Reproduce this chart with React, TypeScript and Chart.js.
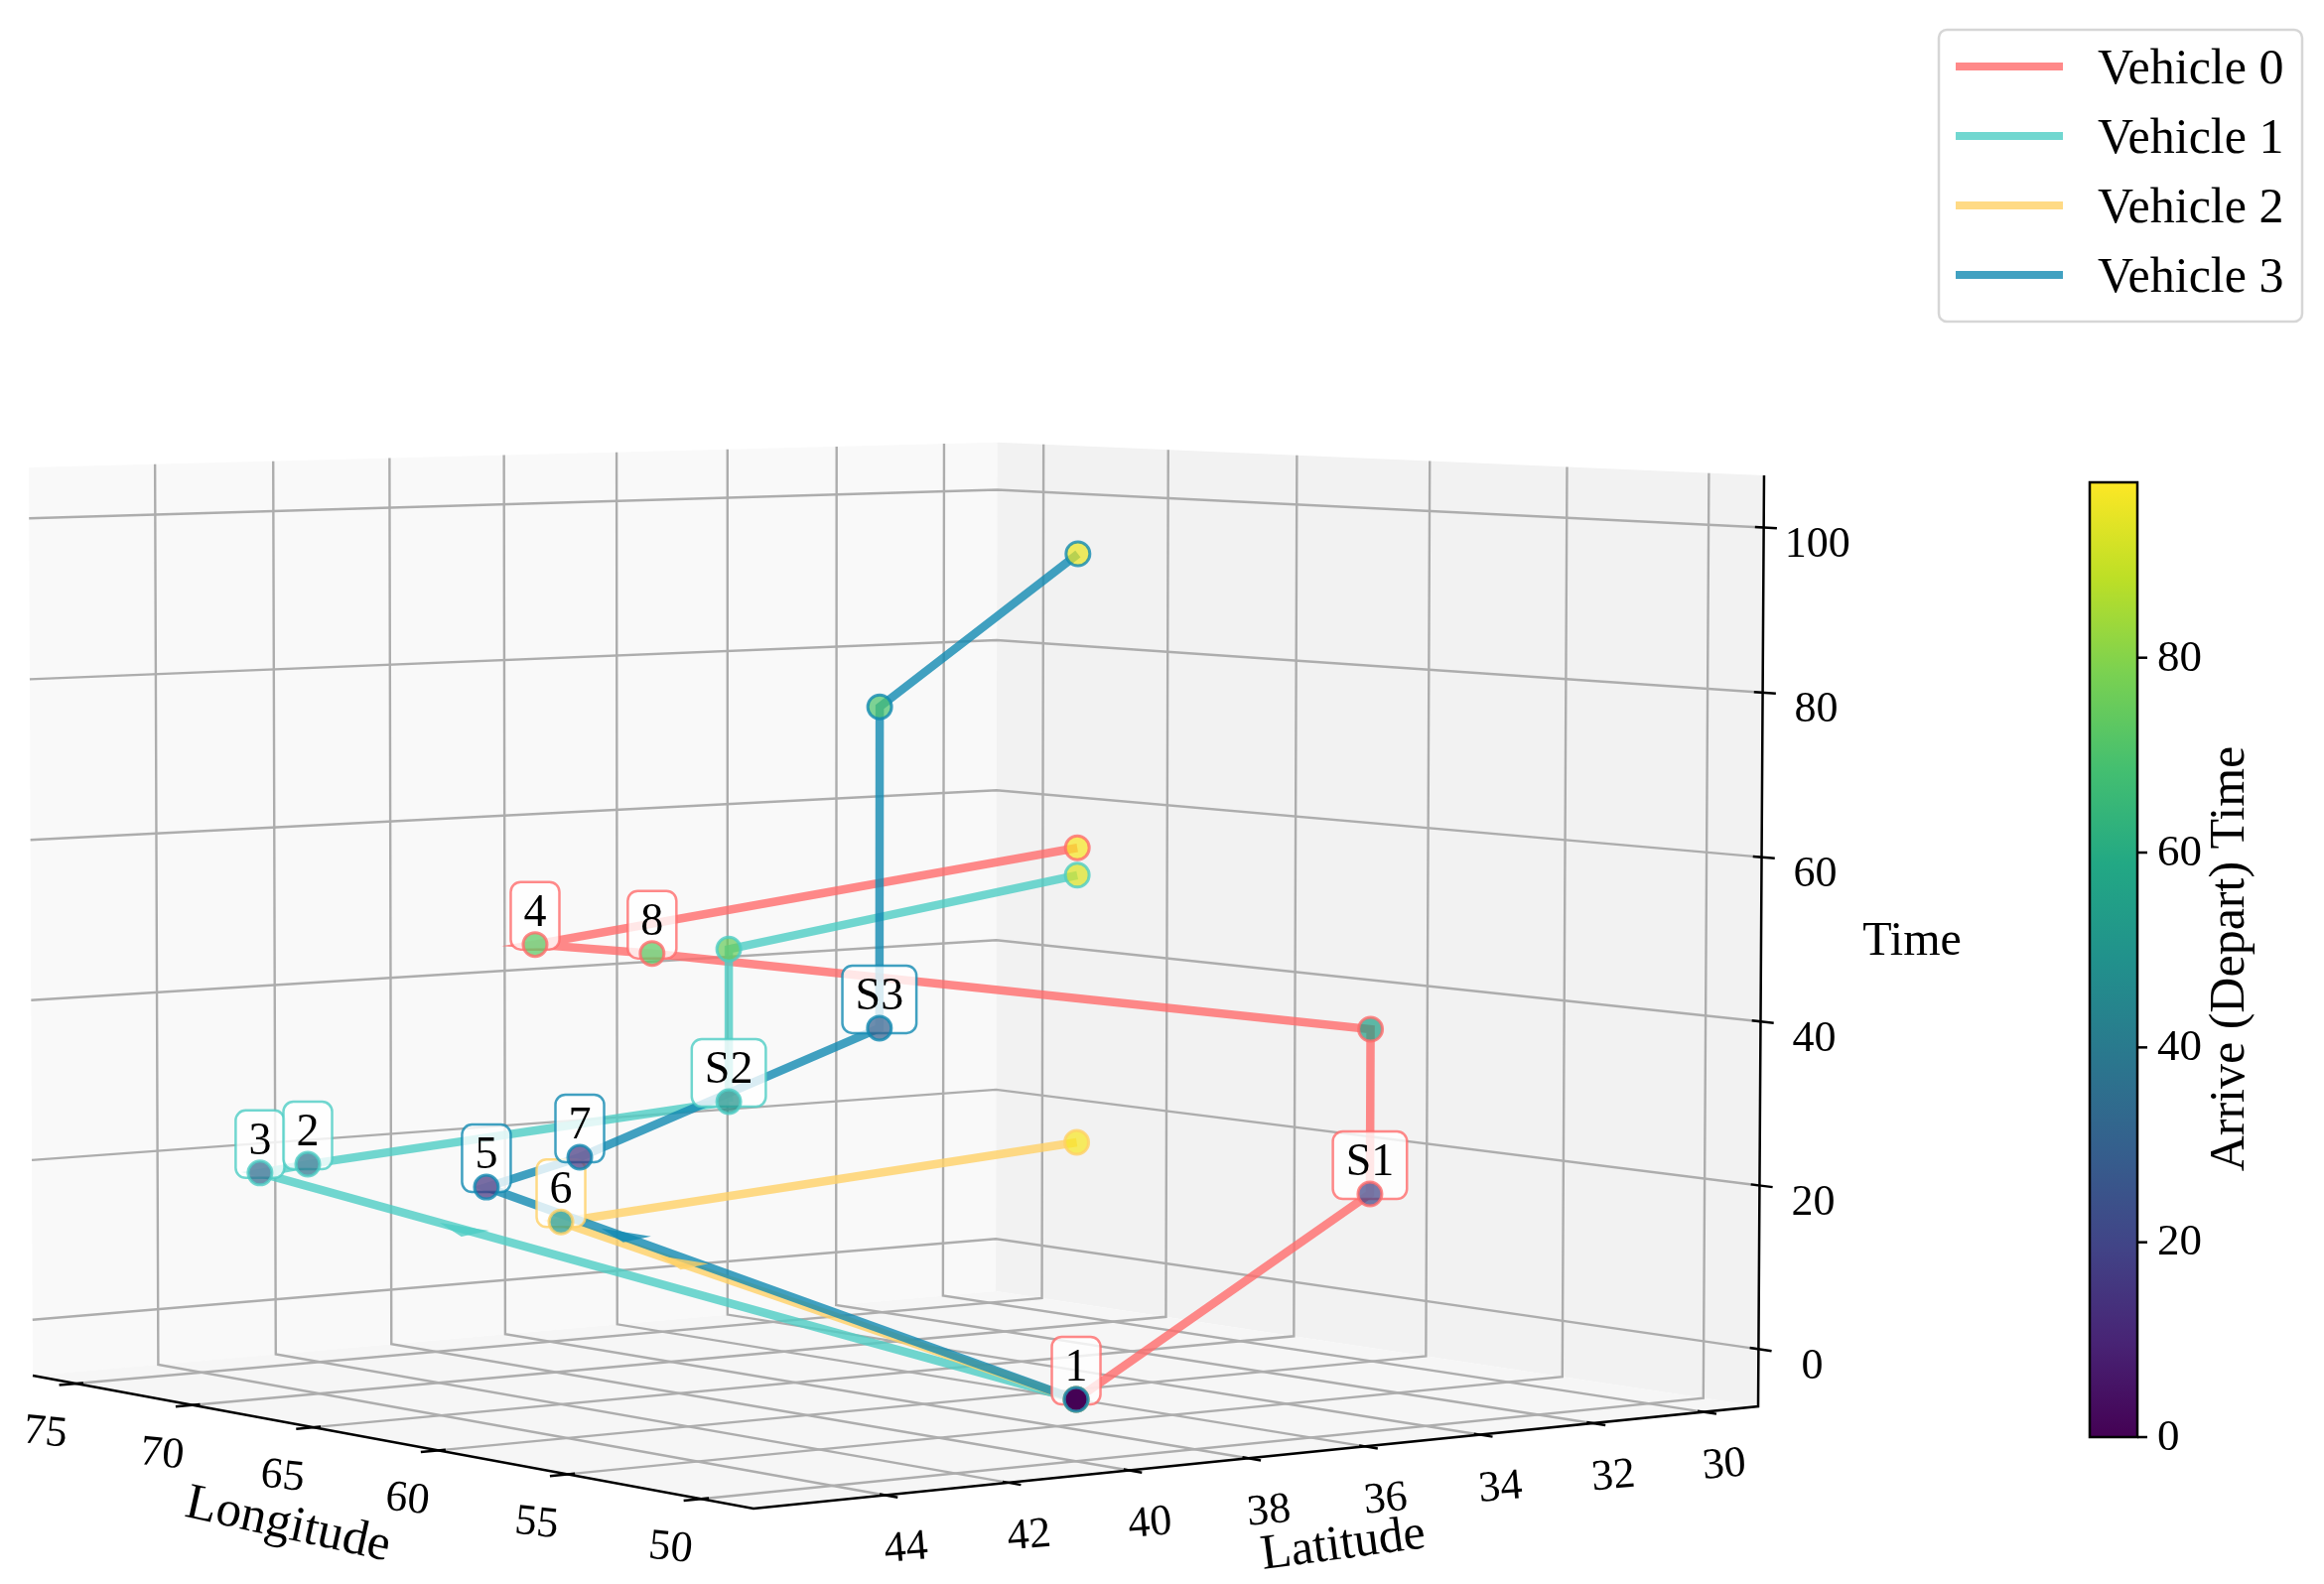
import React, { useEffect, useRef } from "react";
import { Chart, registerables } from "chart.js";

Chart.register(...registerables);

const WIDTH = 2341;
const HEIGHT = 1596;
const FONT = '"Liberation Serif", "Times New Roman", serif';

// ---- data -----------------------------------------------------------------
const vehicleNames = ["Vehicle 0", "Vehicle 1", "Vehicle 2", "Vehicle 3"];
const vehicleColors = ["rgba(255,107,107,0.8)", "rgba(78,205,196,0.8)", "rgba(255,209,102,0.8)", "rgba(17,138,178,0.8)"];

const lon0 = [50.32, 60.1, 60.1, 66.07, 66.03, 50.32];
const lat0 = [39.85, 30, 30, 40, 42, 39.85];
const time0 = [0, 14.15, 34.97, 46.9, 48.9, 64.7];
const shade0 = [0, 20, 55, 73, 73, 97];
const labels0 = ["1", "S1", "", "8", "4", ""];

const lon1 = [50.32, 75, 71.73, 67.64, 67.64, 50.32];
const lat1 = [39.85, 43.01, 43.5, 38, 38, 39.85];
const time1 = [0, 17.5, 20.3, 26.9, 46, 61.5];
const shade1 = [0, 34, 38, 50, 75, 93];
const labels1 = ["", "3", "2", "S2", "", ""];

const lon2 = [50.32, 60.24, 50.32];
const lat2 = [39.85, 44, 39.85];
const time2 = [0, 18.7, 30.2];
const shade2 = [0, 52, 97];
const labels2 = ["", "6", ""];

const lon3 = [50.32, 60.76, 64.25, 66.18, 66.18, 50.32];
const lat3 = [39.85, 45, 42, 36, 36, 39.85];
const time3 = [0, 23.2, 23.6, 35.7, 76, 99];
const shade3 = [0, 15, 16, 30, 70, 95];
const labels3 = ["", "5", "7", "S3", "", ""];

const routes = [
  { lon: lon0, lat: lat0, time: time0, shade: shade0, labels: labels0 },
  { lon: lon1, lat: lat1, time: time1, shade: shade1, labels: labels1 },
  { lon: lon2, lat: lat2, time: time2, shade: shade2, labels: labels2 },
  { lon: lon3, lat: lat3, time: time3, shade: shade3, labels: labels3 },
];

const lonTicks = [75, 70, 65, 60, 55, 50];
const latTicks = [44, 42, 40, 38, 36, 34, 32, 30];
const timeTicks = [0, 20, 40, 60, 80, 100];
const colorbarTicks = [0, 20, 40, 60, 80];
const arrowVehicles = [1, 3, 2];
const arrowFractions = [0.78, 0.805, 0.81];

const viridis = [
  [68, 1, 84], [72, 36, 117], [65, 68, 135], [53, 95, 141], [42, 120, 142], [33, 145, 140],
  [34, 168, 132], [68, 191, 112], [122, 209, 81], [189, 223, 38], [253, 231, 37],
];
const COLOR_MAX = 98;

// ---- camera ---------------------------------------------------------------
const LON_LIM = [48.1, 76.9];
const LAT_LIM = [46.1, 29];
const TIME_LIM = [-7, 106.3];
const CAMERA = [
  [-722.55, 1149.1, -4.6, 759],
  [10.84, 6.68, -1013.5, 1520],
  [0.1045, 0.0774, -0.0062, 1],
];

function project(lon: number, lat: number, time: number) {
  const u = (lon - LON_LIM[0]) / (LON_LIM[1] - LON_LIM[0]);
  const v = (lat - LAT_LIM[0]) / (LAT_LIM[1] - LAT_LIM[0]);
  const w = (time - TIME_LIM[0]) / (TIME_LIM[1] - TIME_LIM[0]);
  const [a, b, c] = CAMERA.map((r) => r[0] * u + r[1] * v + r[2] * w + r[3]);
  return { x: a / c, y: b / c };
}

function viridisColor(value: number, alpha: number) {
  const t = Math.max(0, Math.min(1, value / COLOR_MAX)) * (viridis.length - 1);
  const i = Math.min(viridis.length - 2, Math.floor(t));
  const f = t - i;
  const c = viridis[i].map((ch, k) => Math.round(ch + (viridis[i + 1][k] - ch) * f));
  return `rgba(${c[0]},${c[1]},${c[2]},${alpha})`;
}

function routePoints(r: (typeof routes)[number]) {
  return r.lon.map((lon, i) => project(lon, r.lat[i], r.time[i]));
}

// ---- drawing helpers ------------------------------------------------------
const scenePlugin = {
  id: "scene",
  beforeDatasetsDraw(chart: any) {
    const { ctx, scales } = chart;
    const px = (p: { x: number; y: number }) => ({ x: scales.x.getPixelForValue(p.x), y: scales.y.getPixelForValue(p.y) });
    const P = (lon: number, lat: number, t: number) => px(project(lon, lat, t));
    const [lonF, lonB] = LON_LIM;
    const [latF, latB] = LAT_LIM;
    const [t0, t1] = TIME_LIM;

    const poly = (pts: { x: number; y: number }[], fill: string) => {
      ctx.beginPath();
      pts.forEach((p, i) => (i ? ctx.lineTo(p.x, p.y) : ctx.moveTo(p.x, p.y)));
      ctx.closePath();
      ctx.fillStyle = fill;
      ctx.fill();
    };
    const line = (pts: { x: number; y: number }[], color: string, width: number) => {
      ctx.beginPath();
      pts.forEach((p, i) => (i ? ctx.lineTo(p.x, p.y) : ctx.moveTo(p.x, p.y)));
      ctx.strokeStyle = color;
      ctx.lineWidth = width;
      ctx.stroke();
    };
    const text = (s: string, x: number, y: number, size: number, rot = 0) => {
      ctx.save();
      ctx.translate(x, y);
      ctx.rotate((rot * Math.PI) / 180);
      ctx.font = `${size}px ${FONT}`;
      ctx.fillStyle = "#000";
      ctx.textAlign = "center";
      ctx.textBaseline = "middle";
      ctx.fillText(s, 0, 0);
      ctx.restore();
    };

    ctx.save();
    ctx.fillStyle = "#fff";
    ctx.fillRect(0, 0, WIDTH, HEIGHT);

    // panes
    poly([P(lonB, latF, t0), P(lonB, latB, t0), P(lonB, latB, t1), P(lonB, latF, t1)], "#f9f9f9");
    poly([P(lonB, latB, t0), P(lonF, latB, t0), P(lonF, latB, t1), P(lonB, latB, t1)], "#f2f2f2");
    poly([P(lonF, latF, t0), P(lonB, latF, t0), P(lonB, latB, t0), P(lonF, latB, t0)], "#f6f6f6");

    // grid
    const grid = "#adadad";
    lonTicks.forEach((lon) => {
      line([P(lon, latF, t0), P(lon, latB, t0), P(lon, latB, t1)], grid, 2.4);
    });
    latTicks.forEach((lat) => {
      line([P(lonF, lat, t0), P(lonB, lat, t0), P(lonB, lat, t1)], grid, 2.4);
    });
    timeTicks.forEach((t) => {
      line([P(lonB, latF, t), P(lonB, latB, t), P(lonF, latB, t)], grid, 2.4);
    });

    // axis lines
    line([P(lonB, latF, t0), P(lonF, latF, t0), P(lonF, latB, t0), P(lonF, latB, t1)], "#000", 2.5);

    // ticks and tick labels
    lonTicks.forEach((lon) => {
      line([P(lon, latF + 0.28, t0), P(lon, latF - 0.12, t0)], "#000", 2.5);
      const p = P(lon, latF, t0);
      text(String(lon), p.x - 31, p.y + 50, 44, 6);
    });
    latTicks.forEach((lat) => {
      line([P(lonF - 0.45, lat, t0), P(lonF + 0.2, lat, t0)], "#000", 2.5);
      const p = P(lonF, lat, t0);
      text(String(lat), p.x + 21, p.y + 54, 44, -5);
    });
    timeTicks.forEach((t) => {
      line([P(lonF - 0.45, latB, t), P(lonF + 0.3, latB, t)], "#000", 2.5);
      const p = P(lonF, latB, t);
      text(String(t), p.x + 54, p.y + 18, 44);
    });

    // axis titles
    text("Longitude", 290, 1537, 51, 12.5);
    text("Latitude", 1353, 1557, 50, -7.5);
    text("Time", 1926, 949, 48);

    // colour bar
    const cbLeft = 2105, cbRight = 2153, cbTop = 486, cbBottom = 1448;
    const cbY = (v: number) => cbBottom - ((cbBottom - cbTop) * v) / COLOR_MAX;
    const grad = ctx.createLinearGradient(0, cbBottom, 0, cbTop);
    viridis.forEach((c, i) => grad.addColorStop(i / (viridis.length - 1), `rgb(${c[0]},${c[1]},${c[2]})`));
    ctx.fillStyle = grad;
    ctx.fillRect(cbLeft, cbTop, cbRight - cbLeft, cbBottom - cbTop);
    ctx.strokeStyle = "#000";
    ctx.lineWidth = 2.5;
    ctx.strokeRect(cbLeft, cbTop, cbRight - cbLeft, cbBottom - cbTop);
    colorbarTicks.forEach((v) => {
      const y = cbY(v);
      line([{ x: cbRight, y }, { x: cbRight + 10, y }], "#000", 2.5);
      ctx.save();
      ctx.font = `45px ${FONT}`;
      ctx.fillStyle = "#000";
      ctx.textAlign = "left";
      ctx.textBaseline = "middle";
      ctx.fillText(String(v), cbRight + 20, y + 1);
      ctx.restore();
    });
    text("Arrive (Depart) Time", 2247, 966, 50, -90);

    // legend
    ctx.beginPath();
    ctx.roundRect(1953, 30, 366, 294, 8);
    ctx.fillStyle = "#fff";
    ctx.fill();
    ctx.strokeStyle = "#d6d6d6";
    ctx.lineWidth = 2.5;
    ctx.stroke();
    vehicleNames.forEach((name, i) => {
      const y = 67 + i * 70;
      line([{ x: 1970, y }, { x: 2078, y }], vehicleColors[i], 8);
      ctx.font = `50px ${FONT}`;
      ctx.fillStyle = "#000";
      ctx.textAlign = "left";
      ctx.textBaseline = "middle";
      ctx.fillText(name, 2113, y + 4);
    });
    ctx.restore();
  },
  beforeDatasetDraw(chart: any, args: any) {
    if (args.index !== 3) return;
    const { ctx, scales } = chart;
    ctx.save();
    // arrowheads sitting on the long first legs
    arrowVehicles.forEach((v, k) => {
      const pts = routePoints(routes[v]);
      const a = pts[0];
      const b = pts[1];
      const f = arrowFractions[k];
      const tx = scales.x.getPixelForValue(a.x + (b.x - a.x) * f);
      const ty = scales.y.getPixelForValue(a.y + (b.y - a.y) * f);
      ctx.beginPath();
      ctx.moveTo(tx, ty);
      ctx.lineTo(tx + 50, ty + 8);
      ctx.lineTo(tx + 22, ty + 14);
      ctx.closePath();
      ctx.fillStyle = vehicleColors[v];
      ctx.fill();
    });
    ctx.restore();
    forEachLabel(chart, (c, x, y, s, vehicle) => {
      c.font = `46px ${FONT}`;
      const w = Math.max(c.measureText(s).width + 26, 49);
      c.beginPath();
      c.roundRect(x - w / 2, y - 63, w, 68, 10);
      c.fillStyle = "rgba(255,255,255,0.8)";
      c.fill();
      c.strokeStyle = vehicleColors[vehicle];
      c.lineWidth = 2.5;
      c.stroke();
    });
  },
  afterDatasetsDraw(chart: any) {
    forEachLabel(chart, (ctx, x, y, s) => {
      ctx.font = `46px ${FONT}`;
      ctx.fillStyle = "#000";
      ctx.textAlign = "center";
      ctx.textBaseline = "middle";
      ctx.fillText(s, x, y - 31);
    });
  },
};

function forEachLabel(chart: any, fn: (ctx: any, x: number, y: number, s: string, vehicle: number) => void) {
  const { ctx, scales } = chart;
  ctx.save();
  routes.forEach((r, vehicle) => {
    const pts = routePoints(r);
    r.labels.forEach((s, i) => {
      if (!s) return;
      fn(ctx, scales.x.getPixelForValue(pts[i].x), scales.y.getPixelForValue(pts[i].y), s, vehicle);
    });
  });
  ctx.restore();
}

export default function App() {
  const ref = useRef<HTMLCanvasElement>(null);
  useEffect(() => {
    document.body.style.margin = "0";
    const order = [3, 2, 1, 0];
    const markers = order.map((v) => ({
      data: routePoints(routes[v]),
      showLine: false,
      pointRadius: 12,
      pointBorderWidth: 3,
      pointBackgroundColor: routes[v].shade.map((s) => viridisColor(s, 0.72)),
      pointBorderColor: vehicleColors[v],
    }));
    const lines = order.map((v) => ({
      data: routePoints(routes[v]),
      showLine: true,
      borderColor: vehicleColors[v],
      borderWidth: 8.5,
      pointRadius: 0,
      borderCapStyle: "butt",
      borderJoinStyle: "miter",
    }));
    const chart = new Chart(ref.current as HTMLCanvasElement, {
      type: "scatter",
      data: { datasets: [...markers, ...lines] as any },
      options: {
        animation: false,
        responsive: false,
        devicePixelRatio: 1,
        layout: { padding: 0, autoPadding: false },
        plugins: { legend: { display: false }, tooltip: { enabled: false } },
        scales: {
          x: { type: "linear", display: false, min: 0, max: WIDTH },
          y: { type: "linear", display: false, min: 0, max: HEIGHT, reverse: true },
        },
      },
      plugins: [scenePlugin as any],
    });
    return () => chart.destroy();
  }, []);
  return (
    <div style={{ position: "absolute", left: 0, top: 0, width: WIDTH, height: HEIGHT, background: "#fff" }}>
      <canvas ref={ref} width={WIDTH} height={HEIGHT} style={{ display: "block" }} />
    </div>
  );
}
